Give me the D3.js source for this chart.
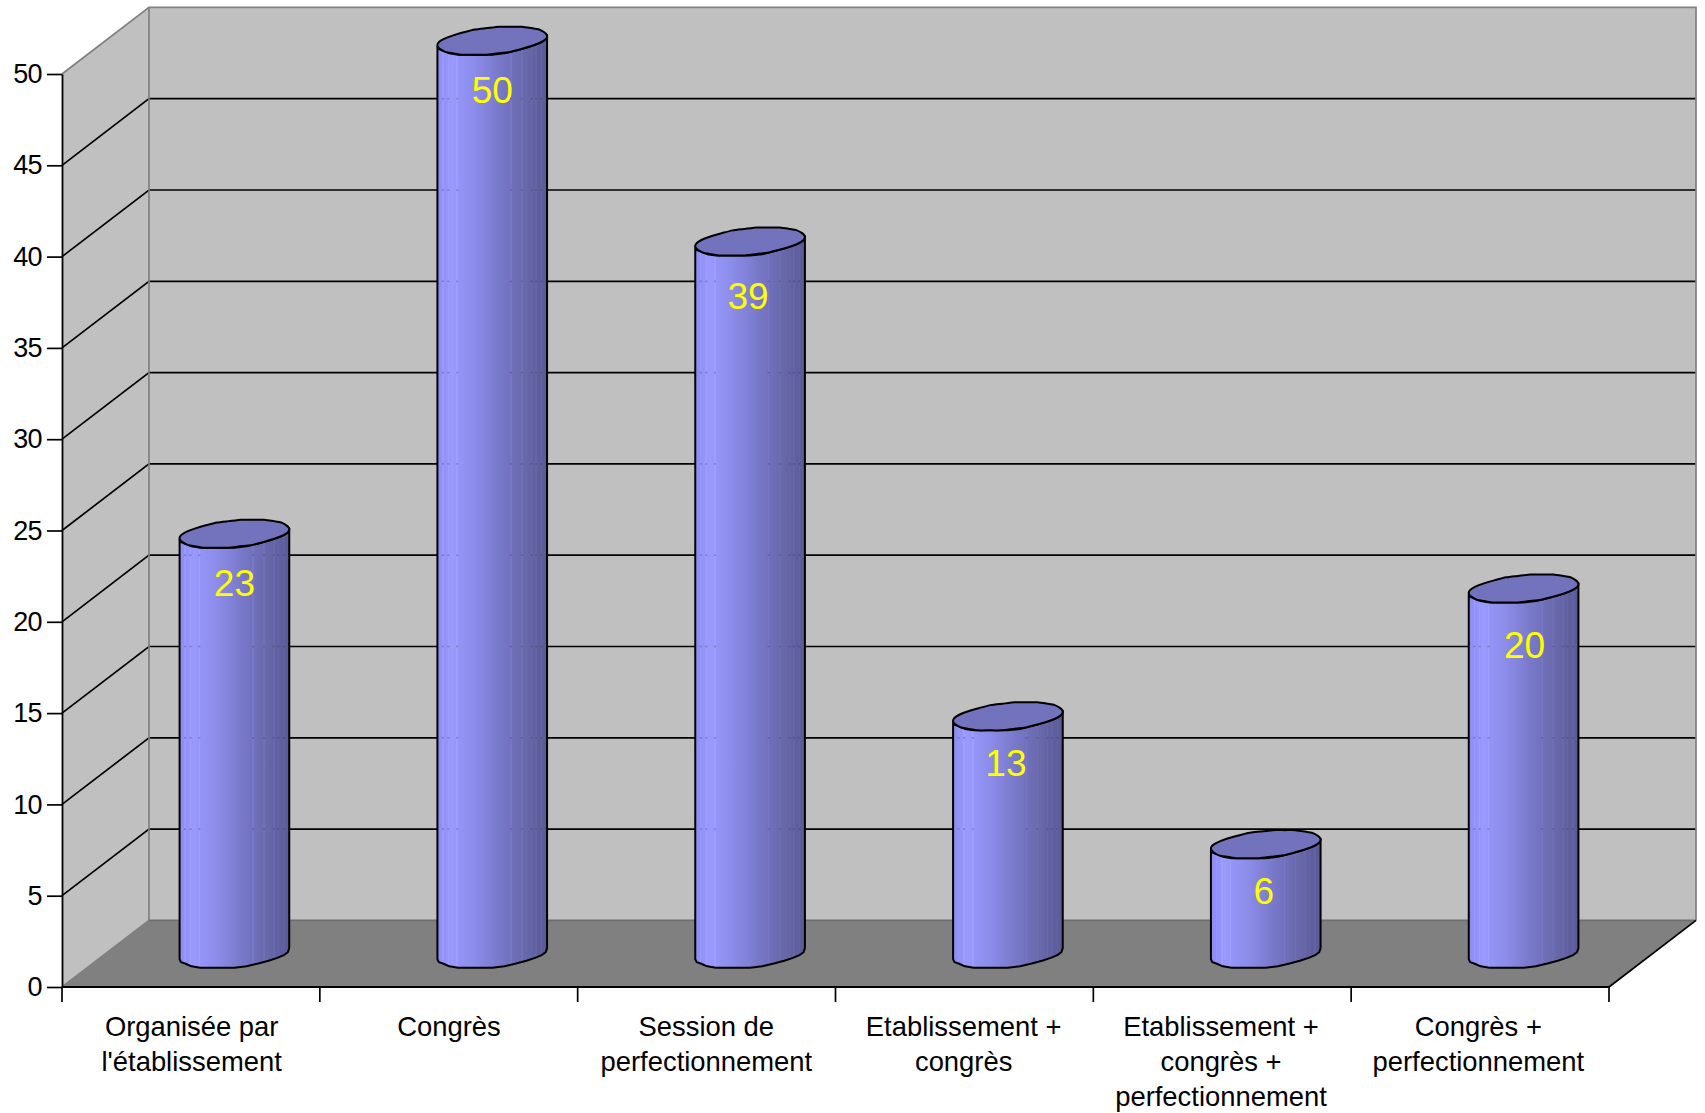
<!DOCTYPE html>
<html><head><meta charset="utf-8">
<script src="https://cdn.jsdelivr.net/npm/d3@7/dist/d3.min.js"></script>
<style>html,body{margin:0;padding:0;background:#fff}svg{display:block}text{font-family:"Liberation Sans",Arial,sans-serif}</style>
</head><body><script>
const categories = [["Organisée par","l'établissement"],["Congrès"],["Session de","perfectionnement"],["Etablissement +","congrès"],["Etablissement +","congrès +","perfectionnement"],["Congrès +","perfectionnement"]];
const seriesValues = [23,50,39,13,6,20];
const yTicks = [0,5,10,15,20,25,30,35,40,45,50];

const W=1705,H=1113;
const svg=d3.select("body").append("svg").attr("width",W).attr("height",H);
const x0=62,x1=1609,y0=987,y50=74,dx=87,dy=66.6;
const y=d3.scaleLinear().domain([0,50]).range([y0,y50]);
const x=d3.scaleBand().domain(d3.range(categories.length)).range([x0,x1]);
const xLabel=d3.scaleBand().domain(d3.range(categories.length)).range([x0+2,x1-1]);
const line=d3.line();

// value-label placement tweaks relative to the bar top (pixels)
const labelShiftX=[0,0,-2,-2,-2,1];
const labelShiftY=[-1,-1,4,-3,-3,6];

// gradient: smooth base with the faint vertical facets of the original
const defs=svg.append("defs");
const base=[[0,"#8c8cf0"],[.04,"#8f8ff5"],[.13,"#9999ff"],[.35,"#8b8be8"],[.55,"#7a7acc"],[.68,"#7070ba"],[.82,"#6666a8"],[.92,"#5f5f9f"],[1,"#5a5a98"]];
const colorAt=d3.scaleLinear().domain(base.map(d=>d[0])).range(base.map(d=>d[1]));
const facets=[.05,.1,.18,.67,.77,.86,.9,.95];
const g=defs.append("linearGradient").attr("id","cyl");
base.forEach(s=>g.append("stop").attr("offset",s[0]).attr("stop-color",s[1]));
facets.forEach(f=>{
  const c=d3.color(colorAt(f)).brighter(.15).formatHex();
  [[f-.007,colorAt(f-.007)],[f-.006,c],[f+.006,c],[f+.007,colorAt(f+.007)]].forEach(s=>g.append("stop").attr("offset",s[0]).attr("stop-color",s[1]));
});
const nodes=g.selectAll("stop").nodes().sort((a,b)=>+a.getAttribute("offset")-+b.getAttribute("offset"));
nodes.forEach(n=>g.node().appendChild(n));

// walls and floor
svg.append("path").attr("d",line([[x0,y50],[x0+dx,y50-dy],[x0+dx,y0-dy],[x0,y0]])+"Z").attr("fill","#c0c0c0");
svg.append("path").attr("d",line([[x0+dx,y50-dy],[x1+dx,y50-dy],[x1+dx,y0-dy],[x0+dx,y0-dy]])+"Z").attr("fill","#c0c0c0");
svg.append("path").attr("d",line([[x0,y0],[x0+dx,y0-dy],[x1+dx,y0-dy],[x1,y0]])+"Z").attr("fill","#808080");

// gridlines
yTicks.filter(v=>v>0&&v<50).forEach(v=>{
  svg.append("path").attr("fill","none").attr("stroke","#000").attr("stroke-width",1.7)
    .attr("d",line([[x0,y(v)],[x0+dx,y(v)-dy],[x1+dx,y(v)-dy]]));
});
// wall edges
svg.append("path").attr("fill","none").attr("stroke","#808080").attr("stroke-width",1.7)
  .attr("d",line([[x0,y50],[x0+dx,y50-dy],[x1+dx,y50-dy],[x1+dx,y0-dy]]));
svg.append("path").attr("fill","none").attr("stroke","#808080").attr("stroke-width",1.7)
  .attr("d",line([[x0+dx,y50-dy],[x0+dx,y0-dy],[x0,y0]]));
svg.append("path").attr("fill","none").attr("stroke","#6e6e6e").attr("stroke-width",1.7)
  .attr("d",line([[x0+dx,y0-dy],[x1+dx,y0-dy]]));
svg.append("path").attr("fill","none").attr("stroke","#000").attr("stroke-width",1.7)
  .attr("d",line([[x1+dx,y0-dy],[x1,y0]]));

// cylinders
const R=51.5,m=14.4,k=m*dx/dy,phi=Math.atan2(k,R);
const grid=1.4;
const pt=(cx,cy,t)=>{const px=cx+R*Math.cos(t)+k*Math.sin(t),py=cy-m*Math.sin(t);return [px,cy+Math.round((py-cy)/grid)*grid];};
const pathOpen=d3.line().curve(d3.curveMonotoneX);
const pathClosed=d3.line().curve(d3.curveCardinalClosed.tension(.4));
seriesValues.forEach((v,i)=>{
  const cx=x(i)+x.bandwidth()/2+dx/2, yt=y(v)-dy/2, yb=y(0)-dy/2;
  const n=14;
  const a0=phi+Math.PI, a1=phi+2*Math.PI; // front half of the rim
  const arc=c=>d3.range(n+1).map(j=>pt(cx,c,a0+(a1-a0)*j/n));
  const bottom=arc(yb), top=arc(yt).reverse();
  const body=line(bottom)+"L"+line(top).slice(1)+"Z";
  svg.append("path").attr("d",body).attr("fill","url(#cyl)").attr("stroke","#000").attr("stroke-width",2).attr("stroke-linejoin","round");
  // faint grid ghost marks on the facets
  yTicks.filter(t=>t>0&&y(t)-dy>yt+10&&y(t)-dy<yb).forEach(t=>{
    const w=2*Math.hypot(R,k);
    facets.forEach(f=>svg.append("line").attr("x1",cx-w/2+f*w-1).attr("x2",cx-w/2+f*w+1).attr("y1",y(t)-dy).attr("y2",y(t)-dy)
      .attr("stroke","#333").attr("stroke-opacity",.3).attr("stroke-width",1.5));
  });
  const rim=d3.range(2*n).map(j=>pt(cx,yt,2*Math.PI*j/(2*n)));
  svg.append("path").attr("d",pathClosed(rim)).attr("fill","#7272bd").attr("stroke","#000").attr("stroke-width",2).attr("stroke-linejoin","round");
  svg.append("text").attr("x",cx+labelShiftX[i]).attr("y",yt+63+labelShiftY[i]).attr("text-anchor","middle").attr("font-size",37).attr("fill","#ffff00").text(v);
});

// axes
const yAxis=svg.append("g").attr("transform",`translate(${x0},0)`).call(d3.axisLeft(y).tickValues(yTicks).tickSize(15).tickSizeOuter(0).tickPadding(5));
yAxis.select(".domain").attr("stroke","#000").attr("stroke-width",1.8);
yAxis.selectAll(".tick line").attr("stroke","#000").attr("stroke-width",1.7);
yAxis.selectAll("text").attr("font-size",27).attr("font-family",'"Liberation Sans"').attr("fill","#000").attr("letter-spacing",-.6);

const xTickVals=d3.range(categories.length+1).map(i=>x0+i*x.step());
svg.selectAll(".xt").data(xTickVals).join("line").attr("x1",d=>d).attr("x2",d=>d).attr("y1",y0).attr("y2",y0+15).attr("stroke","#000").attr("stroke-width",1.7);
svg.append("line").attr("x1",x0).attr("x2",x1).attr("y1",y0).attr("y2",y0).attr("stroke","#000").attr("stroke-width",1.8);

categories.forEach((c,i)=>{
  const t=svg.append("text").attr("text-anchor","middle").attr("font-size",27.4).attr("fill","#000");
  c.forEach((s,j)=>t.append("tspan").attr("x",xLabel(i)+xLabel.bandwidth()/2-1).attr("y",1036+j*35).text(s));
});
</script></body></html>
